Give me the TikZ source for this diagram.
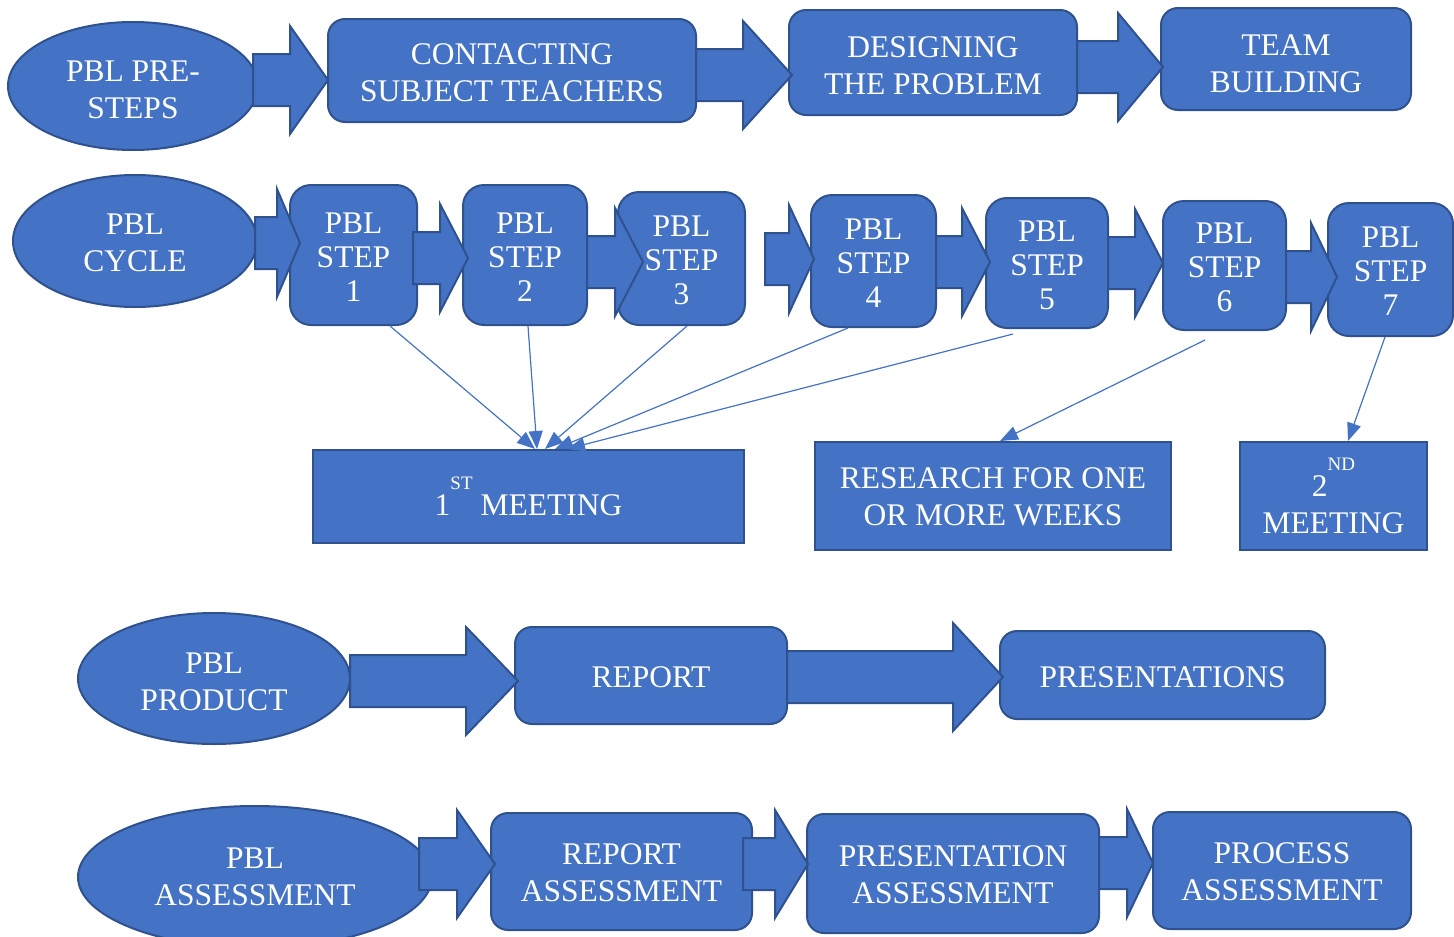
\documentclass[tikz,border=0pt]{standalone}
\usepackage{fontspec}
\setmainfont{Liberation Serif}
\usepackage{xcolor}
\usepackage{tikz}
\usetikzlibrary{
		arrows.meta,
		shapes.geometric
	}
\definecolor{office-blue}{HTML}{4472C4}
\definecolor{office-blue-dark}{HTML}{2F528F}
\newcommand{\raisedsup}[1]{\raisebox{26pt}{\fontsize{19}{19}\selectfont #1}}
\newcommand{\capstrut}[1][25pt]{\rule{0pt}{#1}}
\newcommand{\blockarrow}[4]{%
		\draw[blockarrow] (#1, #4-26) -- (#2, #4-26) -- (#2, #4-54) -- (#3, #4) -- (#2, #4+54) -- (#2, #4+26) -- (#1, #4+26) -- cycle;%
	}
\tikzset{%
		every text node part/.style = {
			align = center
		},
		block/.style = {
			draw = office-blue-dark,
			fill = office-blue,
			line width = 2pt,
			text = white,
			rectangle,
			inner sep = 0pt,
			font = \fontsize{31.5}{37}\selectfont
		},
		roundblock/.style = {
			block,
			rounded corners = 17pt
		},
		stepblock/.style = {
			block,
			rounded corners = 21pt,
			font = \fontsize{31.5}{34}\selectfont
		},
		oval/.style = {
			block,
			ellipse
		},
		blockarrow/.style = {
			draw = office-blue-dark,
			fill = office-blue,
			line width = 2pt
		},
		thinlink/.style = {
			draw = office-blue,
			line width = 1.2pt,
			-{Triangle[length=18pt, width=14pt]}
		}
	}

\begin{document}
\begin{tikzpicture}[x=1pt, y=-1pt]
		\useasboundingbox (0, 0) rectangle (1454, 937);
		% pre-steps
		\node[oval, minimum width=250pt, minimum height=128pt] (prestep) at (133, 86) {\capstrut[29pt]PBL PRE-\\STEPS};
		\node[roundblock, minimum width=368pt, minimum height=103pt] (contact) at (512, 70.5) {\capstrut[26pt]CONTACTING\\SUBJECT TEACHERS};
		\node[roundblock, minimum width=288pt, minimum height=105pt] (design) at (933, 62.5) {\capstrut[28pt]DESIGNING\\THE PROBLEM};
		\node[roundblock, minimum width=250pt, minimum height=102pt] (team) at (1286, 59) {\capstrut[31pt]TEAM\\BUILDING};
		% cycle
		\node[oval, minimum width=244pt, minimum height=132pt] (cycle) at (135, 241) {\capstrut PBL\\CYCLE};
		\foreach \i/\x/\y/\w/\h in {
				1/353.5/255/127/140,
				2/525/255/124/140,
				3/681.5/258.5/127/133,
				4/873.5/261/125/132,
				5/1047/263/122/130,
				6/1224.5/265.5/123/129,
				7/1390.5/269.5/125/133%
			}
			\node[stepblock, minimum width=\w*1pt, minimum height=\h*1pt] (step\i) at (\x, \y) {\capstrut[24.5pt]PBL\\STEP\\\i};
		\node[block, minimum width=431pt, minimum height=93pt] (meet1) at (528.5, 496.5) {1\raisedsup{ST} MEETING};
		\node[block, minimum width=356pt, minimum height=108pt] (research) at (993, 496) {\capstrut[23pt]RESEARCH FOR ONE\\OR MORE WEEKS};
		\node[block, minimum width=187pt, minimum height=108pt] (meet2) at (1333.5, 496) {2\raisedsup{ND}\\MEETING};
		% product
		\node[oval, minimum width=272pt, minimum height=131pt] (product) at (214, 678.5) {\capstrut[27pt]PBL\\PRODUCT};
		\node[roundblock, minimum width=272pt, minimum height=97pt] (report) at (651, 675.5) {\capstrut REPORT};
		\node[roundblock, minimum width=325pt, minimum height=88pt] (present) at (1162.5, 675) {\capstrut PRESENTATIONS};
		% assessment
		\node[oval, minimum width=354pt, minimum height=142pt] (assess) at (255, 877) {PBL\\ASSESSMENT};
		\node[roundblock, minimum width=261pt, minimum height=117pt] (reportassess) at (621.5, 871.5) {\capstrut[23pt]REPORT\\ASSESSMENT};
		\node[roundblock, minimum width=292pt, minimum height=119pt] (presentassess) at (953, 873.5) {\capstrut[23pt]PRESENTATION\\ASSESSMENT};
		\node[roundblock, minimum width=258pt, minimum height=117pt] (processassess) at (1282, 870.5) {\capstrut[24pt]PROCESS\\ASSESSMENT};

		% block arrows: shaft start, head base, tip, middle
		\foreach \xa/\xb/\xc/\ym in {
				253/290/328/80, 696/743/792/75, 1077/1118/1163/67,
				255/277/300/243, 413/440/468/258, 587/615/643/262, 765/789/814/259,
				936/962/990/262, 1108/1135/1163/263, 1286/1311/1337/277,
				350/466/518/681, 787/953/1003/677,
				419/457/495/864, 743/775/808/864, 1099/1127/1153/863%
			}{
			\blockarrow{\xa}{\xb}{\xc}{\ym}
		}

		% links to meetings
		\draw[thinlink] ([xshift=36.5pt]step1.south) -- ([xshift=6.5pt]meet1.north);
		\draw[thinlink] ([xshift=3pt]step2.south) -- ([xshift=8.5pt]meet1.north);
		\draw[thinlink] ([xshift=5.5pt]step3.south) -- ([xshift=16.5pt]meet1.north);
		\draw[thinlink] ([xshift=-25.5pt]step4.south) -- ([xshift=26.5pt]meet1.north);
		\draw[thinlink] ([xshift=-34pt, yshift=-5pt]step5.south) -- ([xshift=38.5pt]meet1.north);
		\draw[thinlink] ([xshift=-19.5pt, yshift=-9pt]step6.south) -- ([xshift=7pt]research.north);
		\draw[thinlink] ([xshift=-5.5pt]step7.south) -- ([xshift=14.5pt]meet2.north);
	\end{tikzpicture}
\end{document}
